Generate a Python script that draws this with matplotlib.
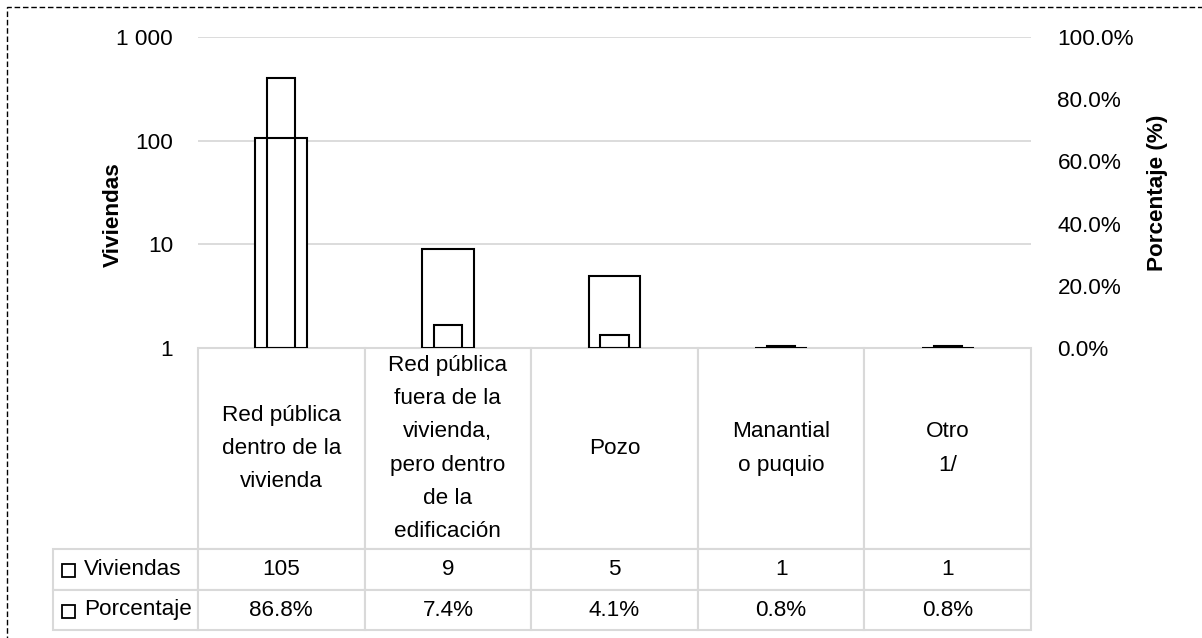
import matplotlib
matplotlib.use("Agg")
import matplotlib.pyplot as plt
from matplotlib.patches import Rectangle
from matplotlib.ticker import FixedLocator, FuncFormatter, NullLocator

categorias = ["Red pública\ndentro de la\nvivienda",
              "Red pública\nfuera de la\nvivienda,\npero dentro\nde la\nedificación",
              "Pozo",
              "Manantial\no puquio",
              "Otro\n1/"]
series = ["Viviendas", "Porcentaje"]
viviendas = [105, 9, 5, 1, 1]
porcentaje = [86.8, 7.4, 4.1, 0.8, 0.8]

plt.rcParams['font.family'] = ['Liberation Sans', 'DejaVu Sans']
FS = 16.2
GRIS = "#d9d9d9"

W, H = 1202, 638
fig = plt.figure(figsize=(W / 100, H / 100), dpi=100)

# plot area in pixels: x 198..1031, y 37..348
AX_W, AX_H = 833, 311
ax = fig.add_axes([198 / W, 1 - 348 / H, AX_W / W, AX_H / H])
ax2 = ax.twinx()

x = list(range(len(categorias)))
ax.set_yscale("log")
ax.bar(x, [v - 1 for v in viviendas], bottom=1, width=0.31, color="white",
       edgecolor="black", linewidth=1.5, zorder=2)
ax2.bar(x, [p / 100 for p in porcentaje], width=0.17, facecolor="none",
        edgecolor="black", linewidth=1.5, zorder=3)

ax.set_xlim(-0.5, len(categorias) - 0.5)
ax.set_ylim(1, 1000)
ax2.set_ylim(0, 1)

ax.yaxis.set_major_locator(FixedLocator([1, 10, 100, 1000]))
ax.yaxis.set_minor_locator(NullLocator())
ax.yaxis.set_major_formatter(FuncFormatter(lambda v, p: f"{int(v):,}".replace(",", " ")))
ax2.yaxis.set_major_locator(FixedLocator([0, 0.2, 0.4, 0.6, 0.8, 1.0]))
ax2.yaxis.set_major_formatter(FuncFormatter(lambda v, p: f"{v * 100:.1f}%"))

ax.grid(axis="y", color=GRIS, linewidth=1.3, zorder=0)
ax.set_axisbelow(True)
ax.set_xticks([])
ax.tick_params(axis="y", length=0, pad=18, labelsize=FS)
ax2.tick_params(axis="y", length=0, pad=19, labelsize=FS)
for a in (ax, ax2):
    for s in a.spines.values():
        s.set_visible(False)

fig.text(113 / W, 1 - 215 / H, "Viviendas", rotation=90, fontsize=FS,
         fontweight="bold", ha="center", va="center")
fig.text(1158 / W, 1 - 193 / H, "Porcentaje (%)", rotation=90, fontsize=FS,
         fontweight="bold", ha="center", va="center")

# data table below the plot, first column holds the series names
celdas = [[series[0]] + [str(v) for v in viviendas],
          [series[1]] + [f"{p:.1f}%" for p in porcentaje]]
ROT_W = 145 / AX_W
alturas = {0: 201 / AX_H, 1: 41 / AX_H, 2: 40 / AX_H}
tabla = ax.table(cellText=celdas, colLabels=[""] + categorias,
                 cellLoc="center",
                 bbox=[-ROT_W, -sum(alturas.values()), 1 + ROT_W, sum(alturas.values())])
tabla.auto_set_font_size(False)
tabla.set_fontsize(FS)
for (r, c), cell in tabla.get_celld().items():
    cell.set_edgecolor(GRIS)
    cell.set_linewidth(1.5)
    cell.set_height(alturas[r])
    cell.set_width(ROT_W if c == 0 else 1 / 5)
    if c == 0:
        cell.PAD = 0.214
        cell.set_text_props(ha="left")
        if r == 0:
            cell.visible_edges = "open"
    if r == 0:
        cell.get_text().set_linespacing(1.76)

# legend keys in the row labels (pixels: left 62, 13 px square)
for yc in (570.5, 611):
    fig.add_artist(Rectangle((62 / W, 1 - (yc + 6.5) / H), 13 / W, 13 / H,
                             transform=fig.transFigure, facecolor="white",
                             edgecolor="black", linewidth=1.3))

fig.add_artist(Rectangle((7 / W, -0.02), 1.1, 1 - 7 / H + 0.02,
                         transform=fig.transFigure, fill=False,
                         edgecolor="black", linewidth=1.0, linestyle=(0, (4, 2))))

fig.savefig("out.png", dpi=100)
